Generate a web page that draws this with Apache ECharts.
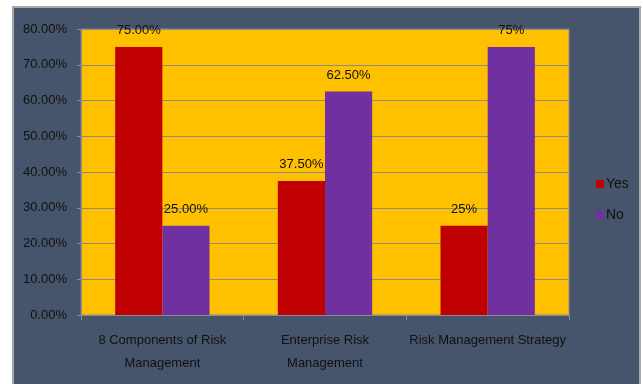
<!DOCTYPE html>
<html>
<head>
<meta charset="utf-8">
<script src="https://cdn.jsdelivr.net/npm/echarts@6/dist/echarts.min.js"></script>
<style>
html,body{margin:0;padding:0;background:#fff;}
#c{width:643px;height:384px;}
</style>
</head>
<body>
<div id="c"></div>
<script>
var categories = ['8 Components of Risk\nManagement', 'Enterprise Risk\nManagement', 'Risk Management Strategy'];
var yesValues = [0.75, 0.375, 0.25];
var noValues = [0.25, 0.625, 0.75];
var yesLabels = ['75.00%', '37.50%', '25%'];
var noLabels = ['25.00%', '62.50%', '75%'];
var yTicks = { min: 0, max: 0.8, interval: 0.1 };

var chart = echarts.init(document.getElementById('c'), null, { renderer: 'canvas' });
var font = 'Liberation Sans, Arial, sans-serif';
chart.setOption({
  backgroundColor: '#ffffff',
  animation: false,
  graphic: [{
    type: 'rect', z: -10, silent: true,
    shape: { x: 13, y: 7, width: 627, height: 382 },
    style: { fill: '#46556B', stroke: '#A8A8A8', lineWidth: 2 }
  }],
  grid: {
    left: 81, right: 74, top: 29, bottom: 69,
    show: true, backgroundColor: '#FFC000', borderColor: '#8C8C8C', borderWidth: 1
  },
  legend: {
    orient: 'vertical', left: 591, top: 172,
    itemWidth: 8, itemHeight: 8, itemGap: 17,
    icon: 'rect',
    textStyle: { fontSize: 14, color: '#111', fontFamily: font, padding: [0, 0, 0, -3] },
    data: ['Yes', 'No']
  },
  xAxis: {
    type: 'category', data: categories,
    axisLine: { lineStyle: { color: '#8C8C8C' } },
    axisTick: { show: true, length: 5, lineStyle: { color: '#8C8C8C' } },
    axisLabel: { fontSize: 13, color: '#111', fontFamily: font, lineHeight: 23, margin: 14, interval: 0 }
  },
  yAxis: {
    type: 'value', min: yTicks.min, max: yTicks.max, interval: yTicks.interval,
    axisLine: { show: true, lineStyle: { color: '#8C8C8C' } },
    axisTick: { show: true, length: 4, lineStyle: { color: '#8C8C8C' } },
    splitLine: { lineStyle: { color: '#8C8C8C', width: 1 } },
    axisLabel: {
      fontSize: 13, color: '#111', fontFamily: font, margin: 14,
      formatter: function (v) { return (v * 100).toFixed(2) + '%'; }
    }
  },
  series: [{
    name: 'Yes', type: 'bar', data: yesValues,
    barGap: '0%', barCategoryGap: '42%',
    itemStyle: { color: '#C00000' },
    label: { show: true, position: 'top', distance: 10, fontSize: 13, color: '#111', fontFamily: font,
      formatter: function (p) { return yesLabels[p.dataIndex]; } }
  }, {
    name: 'No', type: 'bar', data: noValues,
    barGap: '0%', barCategoryGap: '42%',
    itemStyle: { color: '#7030A0' },
    label: { show: true, position: 'top', distance: 10, fontSize: 13, color: '#111', fontFamily: font,
      formatter: function (p) { return noLabels[p.dataIndex]; } }
  }]
});
</script>
</body>
</html>
